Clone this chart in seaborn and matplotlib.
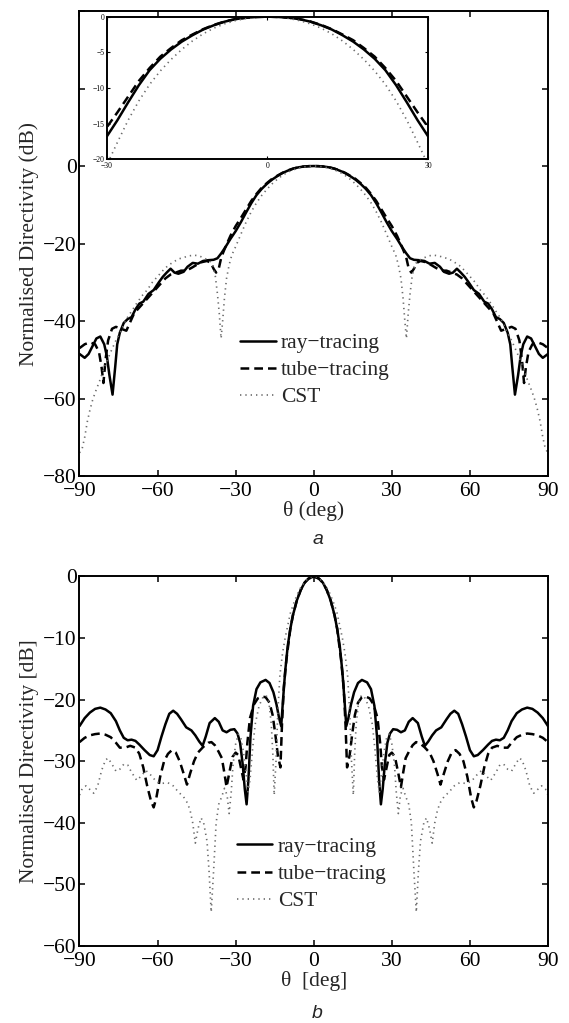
import matplotlib
matplotlib.use("Agg")
import matplotlib.pyplot as plt
import seaborn as sns

# ---------------- data (panel a) ----------------
TOP_RAY_THETA = [-90, -88, -86.5, -85, -83.5, -82, -80.5, -79.5, -78.5, -77.3, -76.3, -75.5, -74.5, -73, -71.5,
                 -70, -68.5, -67, -65.5, -63.5, -61.5, -59.5, -58, -56.5, -55, -53.5, -52, -50, -48.5, -46.5,
                 -44.5, -42.5, -40.5, -38.5, -37, -35.5, -34, -32, -30, -28, -26, -24, -22, -20, -18, -16, -14,
                 -12, -10, -8, -6, -4, -2, 0,
                 2, 4, 6, 8, 10, 12, 14, 16, 18, 20, 22, 24, 26, 28, 30, 32, 34, 35.5, 37, 38.5, 40.5, 42.5, 44.5,
                 46.5, 48.5, 50, 52, 53.5, 55, 56.5, 58, 59.5, 61.5, 63.5, 65.5, 67, 68.5, 70, 71.5, 73, 74.5, 75.5,
                 76.3, 77.3, 78.5, 79.5, 80.5, 82, 83.5, 85, 86.5, 88, 90]
TOP_RAY_DB = [-48.5, -49.5, -48.5, -46.5, -44.5, -44, -46, -49, -54, -59, -52, -46, -43, -40.5, -39.5,
              -39, -37, -35.5, -35, -33, -32, -30, -28.6, -27.5, -26.5, -27.5, -27.8, -27.3, -26, -25,
              -25.2, -24.5, -24.3, -24.2, -23.8, -22.5, -21, -18.8, -16.8, -14.5, -12.0, -9.6, -7.5, -5.9, -4.6,
              -3.5, -2.6, -1.8, -1.2, -0.7, -0.35, -0.15, -0.04, 0,
              -0.04, -0.15, -0.35, -0.7, -1.2, -1.8, -2.6, -3.5, -4.6, -5.9, -7.5, -9.6, -12.0, -14.5, -16.8,
              -18.8, -21, -22.5, -23.8, -24.2, -24.3, -24.5, -25.2, -25, -26, -27.3, -27.8, -27.5, -26.5, -27.5,
              -28.6, -30, -32, -33, -35, -35.5, -37, -39, -39.5, -40.5, -43, -46, -52, -59, -54, -49, -46, -44,
              -44.5, -46.5, -48.5, -49.5, -48.5]

TOP_TUBE_THETA = [-90, -88, -86, -84, -82.5, -81.5, -80.8, -80, -79, -77.5, -76, -74, -72, -71, -69, -67, -65,
                  -63, -61, -59, -57, -55, -53, -51, -49, -47, -45, -43, -41, -39.5, -38.5, -37.5, -36.5, -35.5,
                  -34, -32, -30, -28, -26, -24, -22, -20, -18, -16, -14, -12, -10, -8, -6, -4, -2, 0,
                  2, 4, 6, 8, 10, 12, 14, 16, 18, 20, 22, 24, 26, 28, 30, 32, 34, 35.5, 36.5, 37.5, 38.5, 39.5,
                  41, 43, 45, 47, 49, 51, 53, 55, 57, 59, 61, 63, 65, 67, 69, 71, 72, 74, 76, 77.5, 79, 80, 80.8,
                  81.5, 82.5, 84, 86, 88, 90]
TOP_TUBE_DB = [-47, -46, -45.5, -46, -48, -52, -56, -50, -45, -42, -41.5, -42, -42.5, -41, -38, -36.5, -35,
               -33.5, -32, -30.5, -29, -28, -27.5, -27, -27, -26.3, -25.5, -24.8, -24.5, -25, -26.5, -27.5, -26.5,
               -23.5, -21, -18, -15.5, -13.4, -11.2, -9.0, -7.2, -5.6, -4.4, -3.3, -2.5, -1.75, -1.15, -0.68,
               -0.34, -0.14, -0.04, 0,
               -0.04, -0.14, -0.34, -0.68, -1.15, -1.75, -2.5, -3.3, -4.4, -5.6, -7.2, -9.0, -11.2, -13.4, -15.5,
               -18, -21, -23.5, -26.5, -27.5, -26.5, -25, -24.5, -24.8, -25.5, -26.3, -27, -27, -27.5, -28, -29,
               -30.5, -32, -33.5, -35, -36.5, -38, -41, -42.5, -42, -41.5, -42, -45, -50, -56, -52, -48, -46,
               -45.5, -46, -47]

TOP_CST_THETA = [-90, -89, -88, -87, -86, -85, -84, -82, -80.5, -78, -76, -74, -72, -70, -68, -66, -64, -62,
                 -60, -58, -56, -54, -52, -50, -48, -46, -44, -42, -40, -38.8, -37.8, -37, -36.3, -35.6, -35,
                 -34.3, -33.5, -32.5, -31.5, -30, -28, -26, -24, -22, -20, -18, -16, -14, -12, -10, -8, -6, -4,
                 -2, 0,
                 2, 4, 6, 8, 10, 12, 14, 16, 18, 20, 22, 24, 26, 28, 30, 31.5, 32.5, 33.5, 34.3, 35, 35.6, 36.3,
                 37, 37.8, 38.8, 40, 42, 44, 46, 48, 50, 52, 54, 56, 58, 60, 62, 64, 66, 68, 70, 72, 74, 76, 78,
                 80.5, 82, 84, 85, 86, 87, 88, 89, 90]
TOP_CST_DB = [-74, -73, -70, -66, -63, -60.5, -58.5, -55, -52, -48, -45, -42.5, -39.5, -37.5, -35.4, -33.5,
              -32, -30, -28.5, -27, -25.7, -24.8, -24, -23.6, -23.2, -23, -23.2, -23.8, -24.5, -25.5, -28.5, -33,
              -38, -44.5, -40, -34, -29, -25.5, -23, -20.8, -17.6, -14.5, -11.8, -9.5, -7.6, -6.0, -4.6, -3.4,
              -2.4, -1.6, -1.0, -0.55, -0.25, -0.06, 0,
              -0.06, -0.25, -0.55, -1.0, -1.6, -2.4, -3.4, -4.6, -6.0, -7.6, -9.5, -11.8, -14.5, -17.6, -20.8,
              -23, -25.5, -29, -34, -40, -44.5, -38, -33, -28.5, -25.5, -24.5, -23.8, -23.2, -23, -23.2, -23.6,
              -24, -24.8, -25.7, -27, -28.5, -30, -32, -33.5, -35.4, -37.5, -39.5, -42.5, -45, -48, -52, -55,
              -58.5, -60.5, -63, -66, -70, -73, -74]

# ---------------- data (panel b) ----------------
BOT_RAY_THETA = [-90, -88, -86, -84, -82, -80, -78, -76, -74.5, -73, -71.5, -70, -68.5, -67, -65, -63, -61.5,
                 -60, -58.5, -57, -55.5, -54, -52.5, -51, -49, -47, -45.5, -44, -42.7, -41.5, -40, -38, -36.5,
                 -35, -33.5, -32, -30.5, -29.3, -28.3, -27.3, -26.5, -25.8, -25.1, -24.3, -23.3, -22, -20.5,
                 -18.5, -17, -15.5, -14.3, -13.3, -12.5, -11.8, -11, -10, -9, -8, -6.5, -5, -3.5, -2, 0,
                 2, 3.5, 5, 6.5, 8, 9, 10, 11, 11.8, 12.5, 13.3, 14.3, 15.5, 17, 18.5, 20.5, 22, 23.3, 24.3,
                 25.1, 25.8, 26.5, 27.3, 28.3, 29.3, 30.5, 32, 33.5, 35, 36.5, 38, 40, 41.5, 42.7, 44, 45.5, 47,
                 49, 51, 52.5, 54, 55.5, 57, 58.5, 60, 61.5, 63, 65, 67, 68.5, 70, 71.5, 73, 74.5, 76, 78, 80,
                 82, 84, 86, 88, 90]
BOT_RAY_DB = [-24.3, -23, -22.1, -21.5, -21.3, -21.6, -22.2, -23.5, -25, -26.2, -26.6, -26.5, -26.7, -27.3,
              -28.2, -29, -29.2, -28.2, -26, -24, -22.3, -21.8, -22.3, -23.2, -24.5, -25, -25.8, -26.8, -27.5,
              -26, -23.8, -23, -23.6, -25, -25.3, -24.9, -24.8, -25.5, -27, -30.5, -34.5, -37, -33, -26, -21,
              -18.3, -17.2, -16.8, -17.3, -18.8, -20.8, -23, -24.3, -20, -15.5, -11.3, -8.5, -6.3, -3.9, -2.2,
              -1.0, -0.35, 0,
              -0.35, -1.0, -2.2, -3.9, -6.3, -8.5, -11.3, -15.5, -20, -24.3, -23, -20.8, -18.8, -17.3, -16.8,
              -17.2, -18.3, -21, -26, -33, -37, -34.5, -30.5, -27, -25.5, -24.8, -24.9, -25.3, -25, -23.6, -23,
              -23.8, -26, -27.5, -26.8, -25.8, -25, -24.5, -23.2, -22.3, -21.8, -22.3, -24, -26, -28.2, -29.2,
              -29, -28.2, -27.3, -26.7, -26.5, -26.6, -26.2, -25, -23.5, -22.2, -21.6, -21.3, -21.5, -22.1, -23,
              -24.3]

BOT_TUBE_THETA = [-90, -88, -86, -84, -82, -80, -78, -76, -74.5, -72.5, -70.5, -68.5, -67, -65.5, -64, -62.5,
                  -61.5, -60.5, -59, -57.5, -56, -54.5, -53, -51.5, -50, -48.7, -47.5, -46, -44.5, -42.5,
                  -40.5, -39.3, -38, -36.5, -35.3, -34.3, -33.5, -32.5, -31.2, -30, -29, -28, -27, -26.2,
                  -25.5, -24.5, -23, -21.5, -20, -18.5, -17, -15.8, -14.8, -13.8, -12.8, -12.2, -11.5, -10.5,
                  -9, -8, -6.5, -5, -3.5, -2, 0,
                  2, 3.5, 5, 6.5, 8, 9, 10.5, 11.5, 12.2, 12.8, 13.8, 14.8, 15.8, 17, 18.5, 20, 21.5, 23, 24.5,
                  25.5, 26.2, 27, 28, 29, 30, 31.2, 32.5, 33.5, 34.3, 35.3, 36.5, 38, 39.3, 40.5, 42.5, 44.5, 46,
                  47.5, 48.7, 50, 51.5, 53, 54.5, 56, 57.5, 59, 60.5, 61.5, 62.5, 64, 65.5, 67, 68.5, 70.5, 72.5,
                  74.5, 76, 78, 80, 82, 84, 86, 88, 90]
BOT_TUBE_DB = [-26.9, -26.2, -25.8, -25.6, -25.5, -25.7, -26.1, -27, -27.8, -27.8, -27.5, -27.8, -28.8, -31,
               -34, -36.5, -37.5, -36, -32.5, -30, -28.8, -28.2, -28.6, -30, -32, -33.8, -32, -30, -28.6, -27.7,
               -27, -26.9, -27.4, -28.5, -29.5, -32, -34.2, -32, -29.3, -28.6, -29, -31, -33, -31, -27, -23,
               -20.8, -19.8, -19.5, -19.6, -20.5, -22.5, -25.5, -29, -31, -24, -18, -13.5, -8.5, -6.3, -3.9,
               -2.2, -1.0, -0.35, 0,
               -0.35, -1.0, -2.2, -3.9, -6.3, -8.5, -13.5, -18, -24, -31, -29, -25.5, -22.5, -20.5, -19.6,
               -19.5, -19.8, -20.8, -23, -27, -31, -33, -31, -29, -28.6, -29.3, -32, -34.2, -32, -29.5, -28.5,
               -27.4, -26.9, -27, -27.7, -28.6, -30, -32, -33.8, -32, -30, -28.6, -28.2, -28.8, -30, -32.5, -36,
               -37.5, -36.5, -34, -31, -28.8, -27.8, -27.5, -27.8, -27.8, -27, -26.1, -25.7, -25.5, -25.6, -25.8,
               -26.2, -26.9]

BOT_CST_THETA = [-90, -89, -87.5, -86, -84.5, -83, -81.5, -80, -79, -77.5, -76, -74.5, -73, -71.5, -70, -68,
                 -66.5, -64.5, -62.5, -60.5, -58.5, -56, -54, -52, -50, -48.5, -47.5, -46.5, -45.5, -44.5,
                 -43.3, -42.3, -41, -40.2, -39.4, -38.5, -37.5, -36.5, -35.3, -34.3, -33.3, -32.5, -31.7, -31,
                 -30, -29, -28, -27, -26, -25.2, -24.5, -23.5, -22.5, -21, -19.5, -18.3, -17.2, -16.3, -15.7,
                 -15.2, -14.5, -13.8, -13, -12, -11, -10, -9, -8, -7, -6, -5, -4, -3, -2, -1, 0,
                 1, 2, 3, 4, 5, 6, 7, 8, 9, 10, 11, 12, 13, 13.8, 14.5, 15.2, 15.7, 16.3, 17.2, 18.3, 19.5, 21,
                 22.5, 23.5, 24.5, 25.2, 26, 27, 28, 29, 30, 31, 31.7, 32.5, 33.3, 34.3, 35.3, 36.5, 37.5, 38.5,
                 39.4, 40.2, 41, 42.3, 43.3, 44.5, 45.5, 46.5, 47.5, 48.5, 50, 52, 54, 56, 58.5, 60.5, 62.5,
                 64.5, 66.5, 68, 70, 71.5, 73, 74.5, 76, 77.5, 79, 80, 81.5, 83, 84.5, 86, 87.5, 89, 90]
BOT_CST_DB = [-35.5, -34.5, -34, -34.6, -35.2, -34, -31.5, -29.8, -29.5, -30.5, -31.6, -31.3, -30.5, -30.6,
              -31.8, -33.1, -32.5, -31.5, -32.3, -33.3, -33.6, -33.5, -34, -35, -35.8, -36.8, -38, -40, -43.3,
              -41, -39.2, -40, -43, -48, -54.5, -48, -40, -37, -35.7, -34.4, -35.5, -38.5, -35, -30.5, -27.2,
              -25.6, -26.2, -28.5, -32, -35, -33, -28, -24, -21, -19.6, -19.3, -20.5, -24, -29, -35.5, -30, -22,
              -16, -12.5, -10, -8, -6, -4.7, -3.6, -2.6, -1.8, -1.2, -0.65, -0.3, -0.07, 0,
              -0.07, -0.3, -0.65, -1.2, -1.8, -2.6, -3.6, -4.7, -6, -8, -10, -12.5, -16, -22, -30, -35.5, -29,
              -24, -20.5, -19.3, -19.6, -21, -24, -28, -33, -35, -32, -28.5, -26.2, -25.6, -27.2, -30.5, -35,
              -38.5, -35.5, -34.4, -35.7, -37, -40, -48, -54.5, -48, -43, -40, -39.2, -41, -43.3, -40, -38,
              -36.8, -35.8, -35, -34, -33.5, -33.6, -33.3, -32.3, -31.5, -32.5, -33.1, -31.8, -30.6, -30.5,
              -31.3, -31.6, -30.5, -29.5, -29.8, -31.5, -34, -35.2, -34.6, -34, -34.5, -35.5]

SERIES_LABELS = ["ray\u2212tracing", "tube\u2212tracing", "CST"]
X_TICKS = [-90, -60, -30, 0, 30, 60, 90]
TOP_Y_TICKS = [-80, -60, -40, -20, 0, 20, 40]
TOP_Y_TICKLABELS = ["\u221280", "\u221260", "\u221240", "\u221220", "0", "", ""]
BOT_Y_TICKS = [-60, -50, -40, -30, -20, -10, 0]
INSET_X_TICKS = [-30, 0, 30]
INSET_Y_TICKS = [-20, -15, -10, -5, 0]

# ---------------- style ----------------
sns.set_style("ticks")
plt.rcParams["font.family"] = ["Liberation Serif", "DejaVu Serif"]
plt.rcParams["font.size"] = 15.5
plt.rcParams["axes.linewidth"] = 1.4
plt.rcParams["xtick.direction"] = "in"
plt.rcParams["ytick.direction"] = "in"
plt.rcParams["xtick.top"] = True
plt.rcParams["ytick.right"] = True
plt.rcParams["xtick.major.size"] = 4
plt.rcParams["ytick.major.size"] = 4
plt.rcParams["xtick.major.width"] = 1.1
plt.rcParams["ytick.major.width"] = 1.1
plt.rcParams["xtick.major.pad"] = 4
plt.rcParams["ytick.major.pad"] = 2
plt.rcParams["xtick.labelsize"] = 15.5
plt.rcParams["ytick.labelsize"] = 15.5
plt.rcParams["axes.edgecolor"] = "black"
plt.rcParams["xtick.color"] = "black"
plt.rcParams["ytick.color"] = "black"

STYLE = {
    "ray": dict(color="black", lw=1.8, dashes=None),
    "tube": dict(color="black", lw=1.8, dashes=[3.5, 2.0]),
    "cst": dict(color="0.42", lw=1.2, dashes=[0.8, 2.4]),
}


def draw(ax, th, db, kind):
    st = STYLE[kind]
    sns.lineplot(x=th, y=db, ax=ax, color=st["color"], linewidth=st["lw"],
                 estimator=None, sort=False, legend=False)
    line = ax.lines[-1]
    if st["dashes"] is not None:
        line.set_dashes(st["dashes"])
    line.set_solid_joinstyle("round")
    return line


fig = plt.figure(figsize=(5.69, 10.23), dpi=100)
fig.patch.set_facecolor("white")

ax1 = fig.add_axes([0.1397, 0.5347, 0.8234, 0.4545])
ax2 = fig.add_axes([0.1397, 0.0753, 0.8234, 0.3612])
axin = fig.add_axes([0.1875, 0.8441, 0.5652, 0.1396])

# ---- panel a ----
h1 = draw(ax1, TOP_RAY_THETA, TOP_RAY_DB, "ray")
h2 = draw(ax1, TOP_TUBE_THETA, TOP_TUBE_DB, "tube")
h3 = draw(ax1, TOP_CST_THETA, TOP_CST_DB, "cst")
ax1.set_xlim(-90, 90)
ax1.set_ylim(-80, 40)
ax1.set_xticks(X_TICKS)
ax1.set_yticks(TOP_Y_TICKS)
ax1.set_yticklabels(TOP_Y_TICKLABELS)
ax1.set_xlabel("\u03b8 (deg)")
ax1.set_ylabel("Normalised Directivity (dB)")
ax1.xaxis.set_label_coords(0.5, -0.053)
ax1.yaxis.set_label_coords(-0.087, 0.5)
ax1.legend(handles=[h1, h2, h3], labels=SERIES_LABELS, loc="upper left",
           bbox_to_anchor=(0.3426, 0.3074), frameon=False, borderpad=0, borderaxespad=0,
           handlelength=1.65, handletextpad=0.25, labelspacing=0.33, fontsize=15.5)

# ---- inset ----
draw(axin, TOP_RAY_THETA, TOP_RAY_DB, "ray")
draw(axin, TOP_TUBE_THETA, TOP_TUBE_DB, "tube")
draw(axin, TOP_CST_THETA, TOP_CST_DB, "cst")
axin.set_xlim(-30, 30)
axin.set_ylim(-20, 0)
axin.set_xticks(INSET_X_TICKS)
axin.set_yticks(INSET_Y_TICKS)
axin.tick_params(labelsize=5.5, length=2, width=0.8, pad=1.5)
axin.set_xlabel("")
axin.set_ylabel("")
axin.set_facecolor("white")

# ---- panel b ----
g1 = draw(ax2, BOT_RAY_THETA, BOT_RAY_DB, "ray")
g2 = draw(ax2, BOT_TUBE_THETA, BOT_TUBE_DB, "tube")
g3 = draw(ax2, BOT_CST_THETA, BOT_CST_DB, "cst")
ax2.set_xlim(-90, 90)
ax2.set_ylim(-60, 0)
ax2.set_xticks(X_TICKS)
ax2.set_yticks(BOT_Y_TICKS)
ax2.set_xlabel("\u03b8  [deg]")
ax2.set_ylabel("Normalised Directivity [dB]")
ax2.xaxis.set_label_coords(0.5, -0.067)
ax2.yaxis.set_label_coords(-0.087, 0.5)
ax2.legend(handles=[g1, g2, g3], labels=SERIES_LABELS, loc="upper left",
           bbox_to_anchor=(0.336, 0.2952), frameon=False, borderpad=0, borderaxespad=0,
           handlelength=1.65, handletextpad=0.25, labelspacing=0.33, fontsize=15.5)

for ax in (ax1, ax2, axin):
    for sp in ax.spines.values():
        sp.set_visible(True)
        sp.set_color("black")

fig.text(318 / 569, 1 - 539 / 1023, "a", ha="center", va="center",
         fontstyle="italic", family=["Liberation Sans", "DejaVu Sans"], fontsize=14)
fig.text(317 / 569, 1 - 1013 / 1023, "b", ha="center", va="center",
         fontstyle="italic", family=["Liberation Sans", "DejaVu Sans"], fontsize=14)

fig.savefig("out.png", dpi=100, facecolor="white")
